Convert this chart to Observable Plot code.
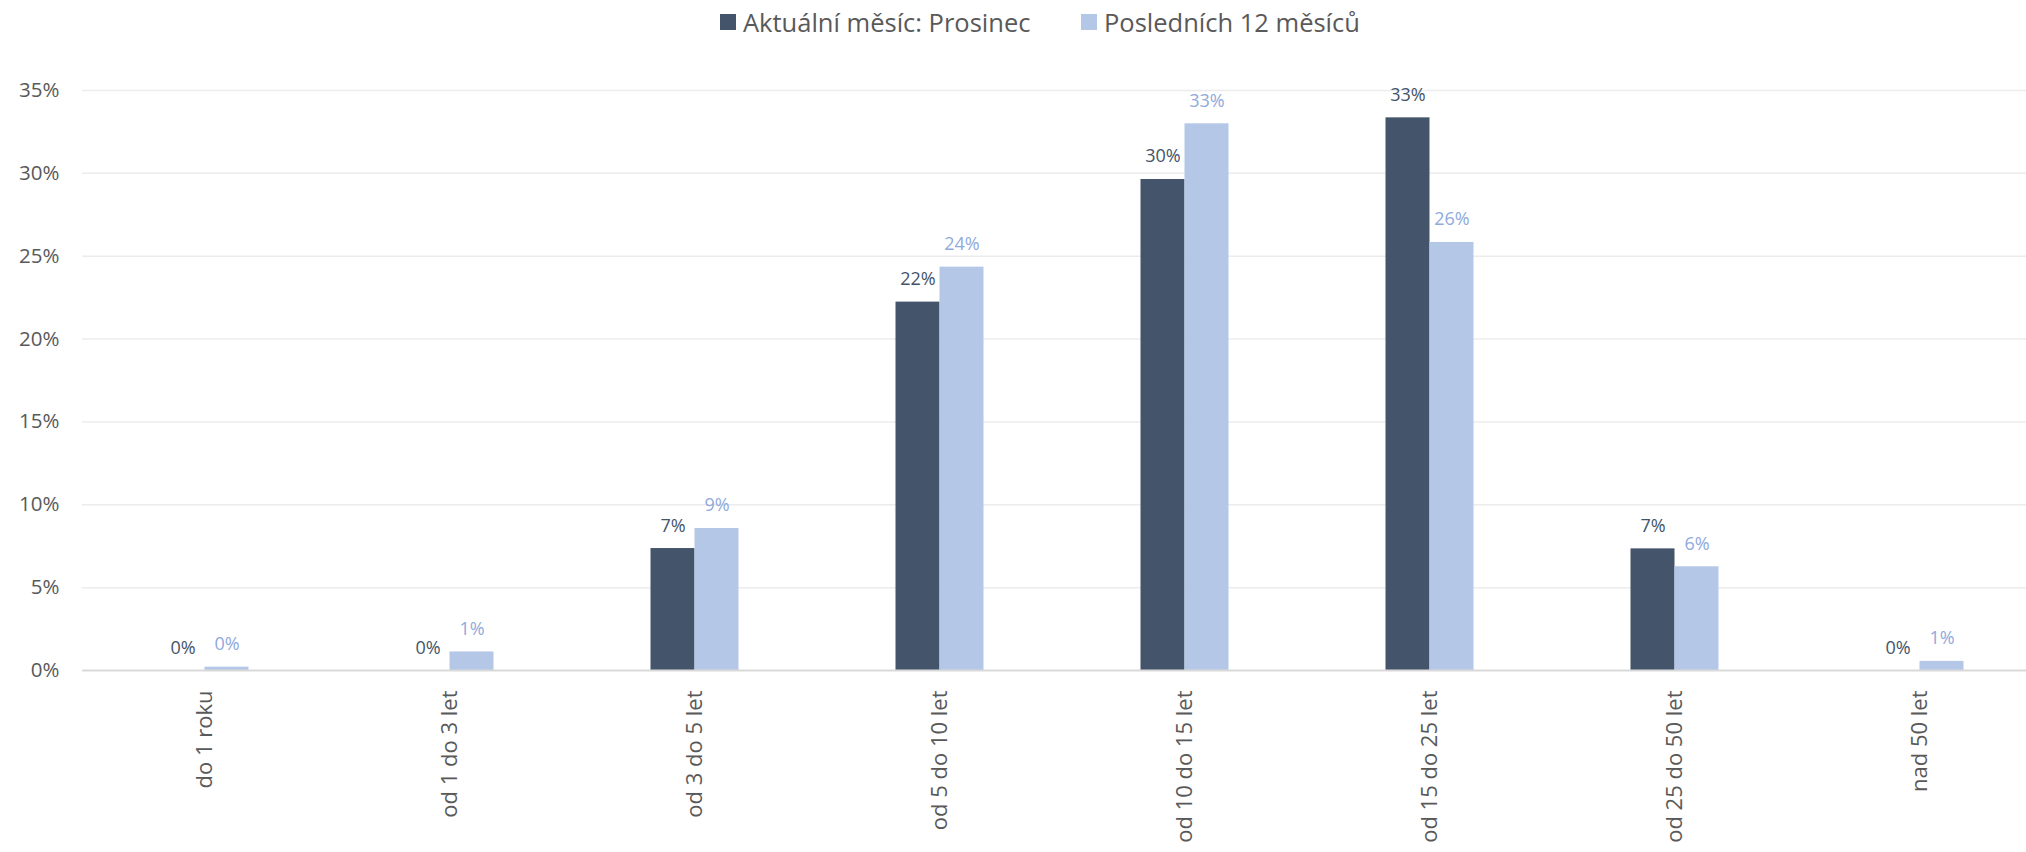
<!DOCTYPE html>
<html>
<head>
<meta charset="utf-8">
<script src="https://cdn.jsdelivr.net/npm/d3@7"></script>
<script src="https://cdn.jsdelivr.net/npm/@observablehq/plot@0.6"></script>
<style>
  html, body { margin: 0; padding: 0; background: #fff; }
  #legend { position: relative; height: 44px; font-family: "Open Sans", sans-serif; font-size: 25.5px; color: #595959; }
  .item { position: absolute; top: 0; height: 44px; display: flex; align-items: center; white-space: nowrap; }
  .sw { width: 16px; height: 16px; margin-right: 7px; }
</style>
</head>
<body>
<div id="legend"></div>
<div id="chart"></div>
<script>
const categories = ["do 1 roku", "od 1 do 3 let", "od 3 do 5 let", "od 5 do 10 let", "od 10 do 15 let", "od 15 do 25 let", "od 25 do 50 let", "nad 50 let"];
const series = ["Aktuální měsíc: Prosinec", "Posledních 12 měsíců"];
const currentMonth = [0, 0, 7.36, 22.23, 29.63, 33.35, 7.34, 0];
const last12Months = [0.2, 1.12, 8.57, 24.34, 32.99, 25.83, 6.26, 0.55];
const yTicks = [0, 5, 10, 15, 20, 25, 30, 35];
const barColors = ["#44546a", "#b4c7e7"];
const labelColors = ["#44546a", "#8faadc"];

const data = categories.flatMap((c, i) => [
  {category: c, series: series[0], value: currentMonth[i]},
  {category: c, series: series[1], value: last12Months[i]}
]);

// legend
const legend = document.getElementById("legend");
const legendLeft = [720, 1081];
series.forEach((s, i) => {
  const it = document.createElement("div");
  it.className = "item";
  it.style.left = legendLeft[i] + "px";
  const sw = document.createElement("div");
  sw.className = "sw";
  sw.style.background = barColors[i];
  const t = document.createElement("span");
  t.textContent = s;
  it.appendChild(sw); it.appendChild(t);
  legend.appendChild(it);
});

const fmt = v => Math.round(v) + "%";

const chart = Plot.plot({
  width: 2026,
  height: 808,
  marginLeft: 81.5,
  marginRight: -15.5,
  marginTop: 46,
  marginBottom: 182,
  style: {fontFamily: "'Open Sans', sans-serif", fontSize: "20px", color: "#595959", background: "#fff", overflow: "visible"},
  fx: {domain: categories, padding: 0, label: null},
  x: {domain: series, paddingInner: 0, paddingOuter: 1.784, axis: null},
  y: {domain: [0, 35], label: null},
  color: {domain: series, range: barColors},
  marks: [
    Plot.ruleY(yTicks.slice(1), {stroke: "#ececec", strokeWidth: 1.5}),
    Plot.barY(data, {fx: "category", x: "series", y: "value", fill: "series"}),
    Plot.ruleY([0], {stroke: "#d9d9d9", strokeWidth: 2}),
    Plot.text(data.filter(d => d.series === series[0]), {fx: "category", x: "series", y: "value", text: d => fmt(d.value), fill: labelColors[0], lineAnchor: "bottom", dy: -17, fontSize: 18}),
    Plot.text(data.filter(d => d.series === series[1]), {fx: "category", x: "series", y: "value", text: d => fmt(d.value), fill: labelColors[1], lineAnchor: "bottom", dy: -17, fontSize: 18}),
    Plot.axisY(yTicks, {anchor: "left", tickSize: 0, tickPadding: 23, tickFormat: d => d + "%", label: null, fontSize: 20.5, fill: "#595959"}),
    Plot.axisFx({anchor: "bottom", tickRotate: -90, tickSize: 0, tickPadding: 20, label: null, fontSize: 22, fill: "#595959"})
  ]
});
document.getElementById("chart").appendChild(chart);
</script>
</body>
</html>
